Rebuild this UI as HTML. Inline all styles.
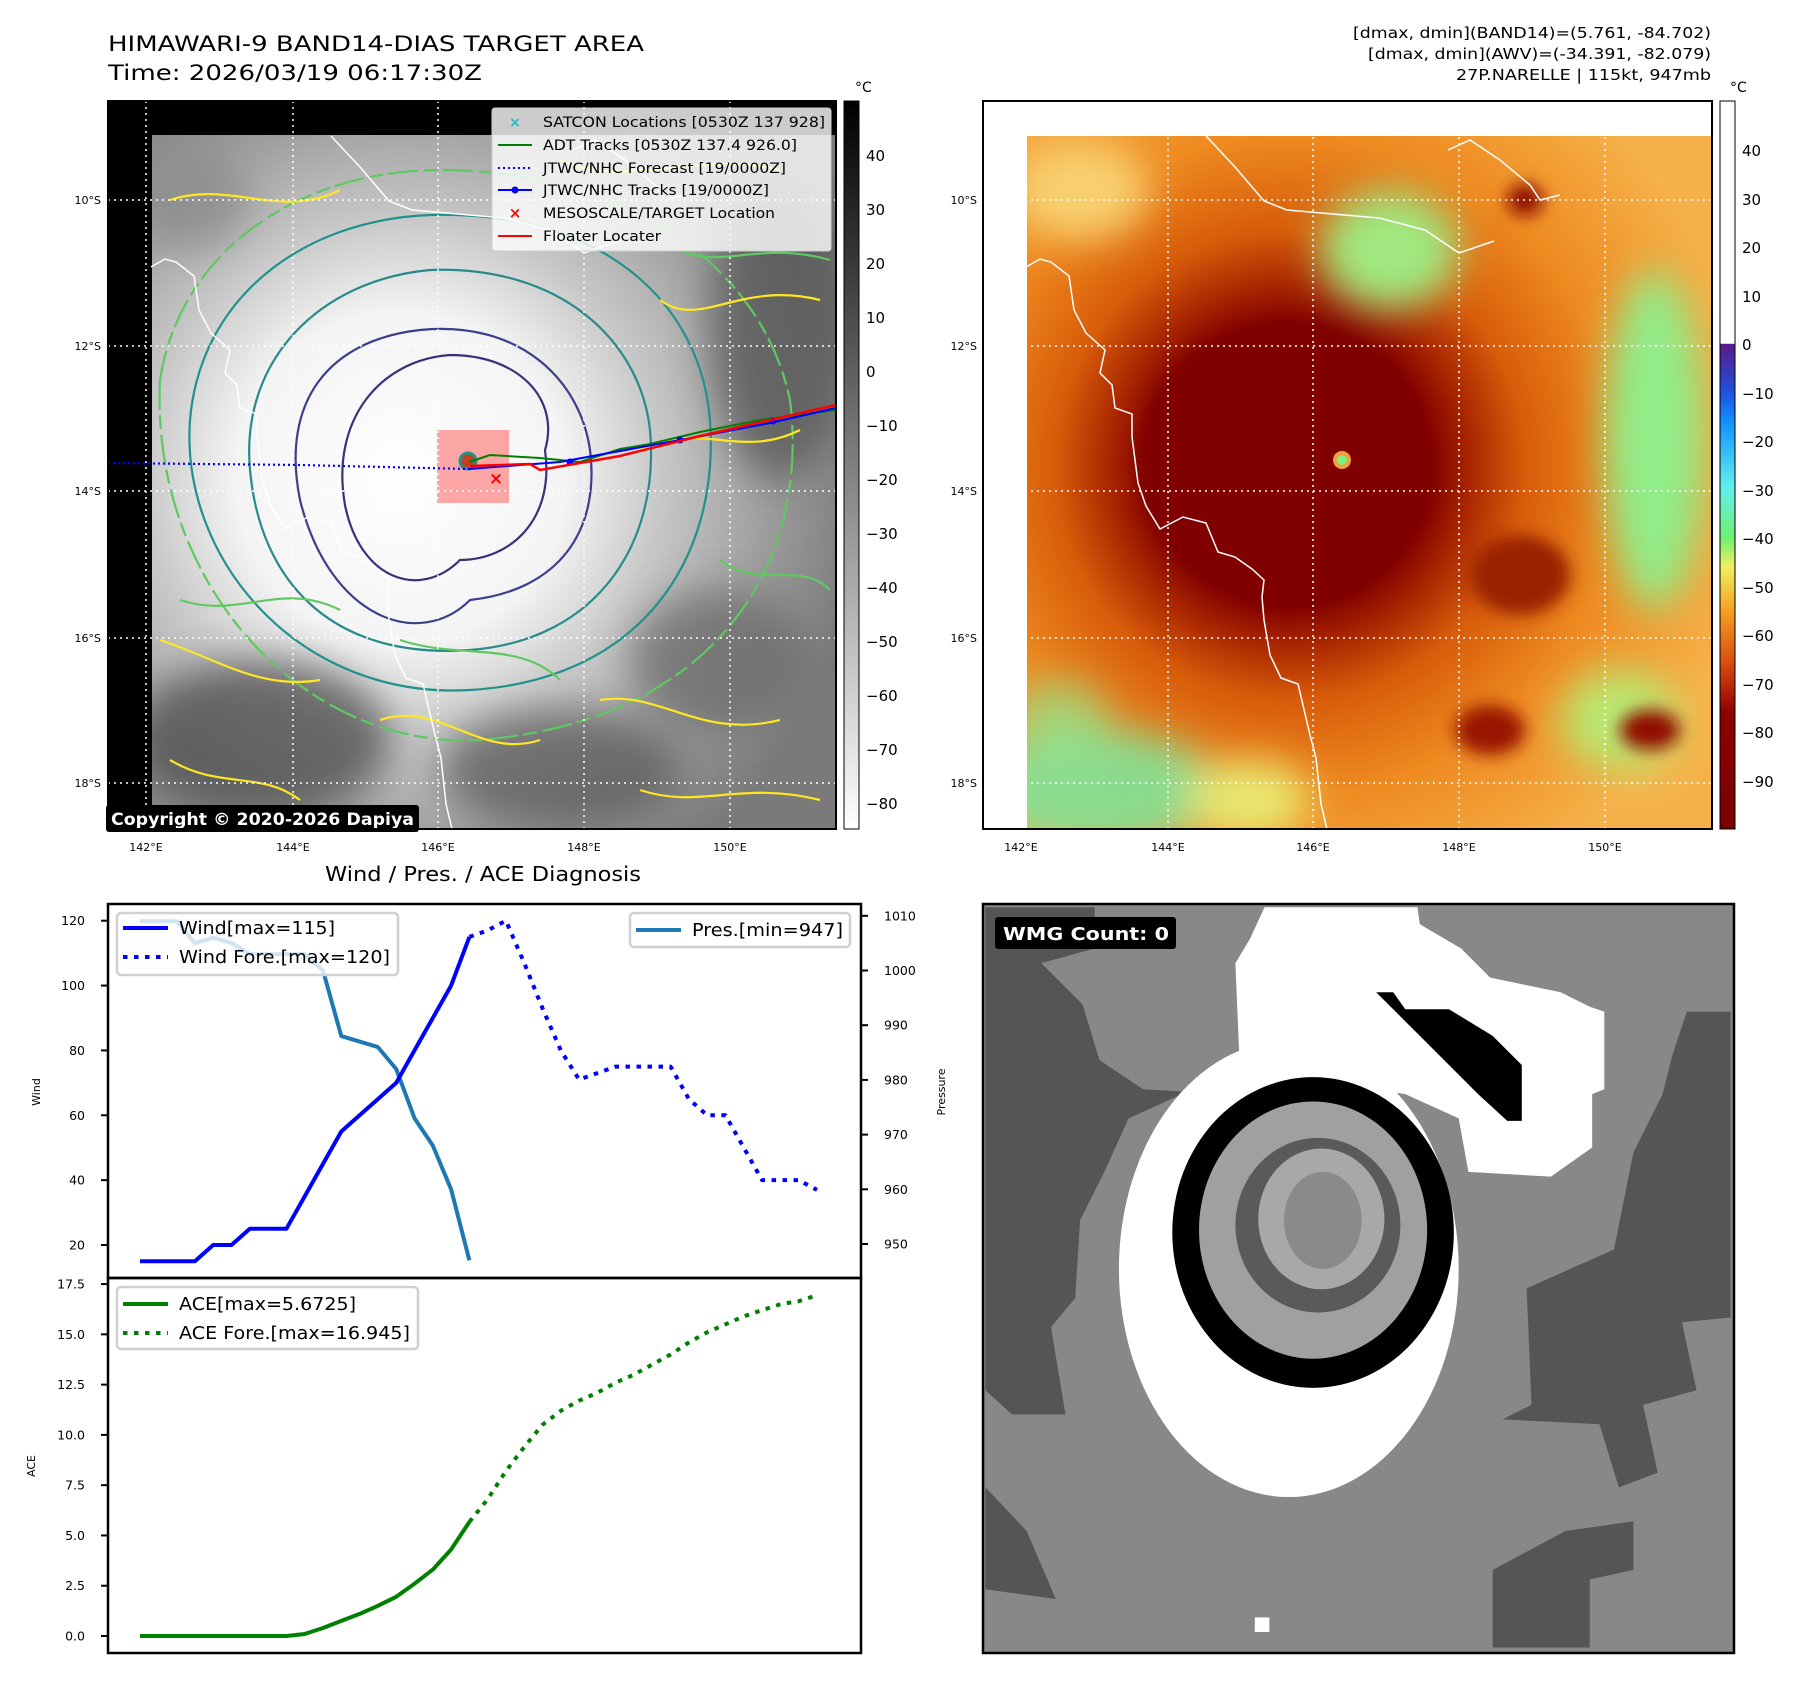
<!DOCTYPE html>
<html><head><meta charset="utf-8">
<style>
html,body{margin:0;padding:0;background:#fff;}
svg{display:block;font-family:"DejaVu Sans","Liberation Sans",sans-serif;}
</style></head>
<body>
<svg id="fig" width="1801" height="1690" viewBox="0 0 1801 1690" xmlns="http://www.w3.org/2000/svg">
<defs>
  <filter id="blur8" x="-50%" y="-50%" width="200%" height="200%"><feGaussianBlur stdDeviation="8"/></filter>
  <filter id="blur20" x="-50%" y="-50%" width="200%" height="200%"><feGaussianBlur stdDeviation="20"/></filter>
  <radialGradient id="irGray" cx="401" cy="478" r="470" gradientUnits="userSpaceOnUse">
    <stop offset="0" stop-color="#ffffff"/><stop offset="0.35" stop-color="#f4f4f4"/>
    <stop offset="0.55" stop-color="#c8c8c8"/><stop offset="0.8" stop-color="#9a9a9a"/>
    <stop offset="1" stop-color="#7a7a7a"/>
  </radialGradient>
  <radialGradient id="irColor" cx="1290" cy="465" r="470" gradientUnits="userSpaceOnUse">
    <stop offset="0" stop-color="#7e0000"/><stop offset="0.3" stop-color="#800000"/>
    <stop offset="0.38" stop-color="#a82400"/><stop offset="0.5" stop-color="#d85c0a"/>
    <stop offset="0.7" stop-color="#ee8a20"/><stop offset="1" stop-color="#f6b24a"/>
  </radialGradient>
  <linearGradient id="cbGray" x1="0" y1="0" x2="0" y2="1">
    <stop offset="0" stop-color="#000"/><stop offset="1" stop-color="#fff"/>
  </linearGradient>
  <linearGradient id="cbColor" x1="0" y1="0" x2="0" y2="1">
    <stop offset="0" stop-color="#fff"/><stop offset="0.333" stop-color="#fff"/>
    <stop offset="0.334" stop-color="#5a1a8a"/><stop offset="0.4" stop-color="#2050e0"/>
    <stop offset="0.44" stop-color="#1090ff"/><stop offset="0.53" stop-color="#60f0f0"/>
    <stop offset="0.6" stop-color="#70f070"/><stop offset="0.64" stop-color="#f0f060"/>
    <stop offset="0.7" stop-color="#f5a020"/><stop offset="0.77" stop-color="#d85010"/>
    <stop offset="0.84" stop-color="#900000"/><stop offset="1" stop-color="#7a0000"/>
  </linearGradient>
  <clipPath id="clipL"><rect x="152" y="135" width="684" height="694"/></clipPath>
  <clipPath id="clipR"><rect x="1027" y="136" width="685" height="693"/></clipPath>
  <path id="coast" d="M1026,267 L1040,259 L1051,262 L1069,276 L1074,310 L1086,333 L1105,350 L1100,373 L1112,385 L1115,408 L1132,414 L1132,437 L1138,483 L1146,506 L1160,529 L1183,517 L1206,523 L1218,552 L1235,557 L1252,569 L1264,580 L1262,597 L1264,620 L1270,655 L1281,678 L1298,684 L1310,735 L1316,758 L1321,804 L1327,829 M1206,136 L1235,167 L1264,201 L1287,210 L1379,218 L1425,230 L1459,253 L1494,241 M1448,150 L1470,140 L1500,160 L1530,185 L1540,200 L1560,195"/>
</defs>

<!-- Titles -->
<text x="108" y="51" font-size="21" textLength="536" lengthAdjust="spacingAndGlyphs">HIMAWARI-9 BAND14-DIAS TARGET AREA</text>
<text x="108" y="80" font-size="21" textLength="374" lengthAdjust="spacingAndGlyphs">Time: 2026/03/19 06:17:30Z</text>
<g font-size="15" text-anchor="end">
  <text x="1711" y="38" textLength="358" lengthAdjust="spacingAndGlyphs">[dmax, dmin](BAND14)=(5.761, -84.702)</text>
  <text x="1711" y="59" textLength="343" lengthAdjust="spacingAndGlyphs">[dmax, dmin](AWV)=(-34.391, -82.079)</text>
  <text x="1711" y="80" textLength="255" lengthAdjust="spacingAndGlyphs">27P.NARELLE | 115kt, 947mb</text>
</g>

<!-- LEFT MAP -->
<g>
  <rect x="108" y="101" width="728" height="728" fill="#000"/>
  <g clip-path="url(#clipL)">
    <rect x="152" y="135" width="684" height="694" fill="url(#irGray)"/>
    <g filter="url(#blur20)" opacity="0.75">
      <ellipse cx="260" cy="740" rx="130" ry="80" fill="#4a4a4a"/>
      <ellipse cx="560" cy="770" rx="120" ry="60" fill="#5a5a5a"/>
      <ellipse cx="780" cy="330" rx="70" ry="150" fill="#555"/>
      <ellipse cx="720" cy="660" rx="90" ry="70" fill="#6a6a6a"/>
      <ellipse cx="190" cy="200" rx="60" ry="50" fill="#8a8a8a"/>
    </g>
    <g fill="none" stroke-width="2.2">
      <path d="M345,505 C330,420 380,360 450,355 C520,355 560,400 545,450 C555,520 510,560 460,560 C420,600 360,580 345,505Z" stroke="#35337a"/>
      <path d="M300,500 C280,400 330,340 420,330 C520,320 580,380 590,450 C600,530 560,590 470,600 C420,650 330,620 300,500Z" stroke="#3b3f8c"/>
      <path d="M250,470 C240,360 320,280 430,270 C560,265 640,340 650,430 C660,540 600,640 470,650 C330,660 260,580 250,470Z" stroke="#2a8a8a"/>
      <path d="M190,420 C200,300 300,220 430,215 C600,210 700,300 710,420 C720,560 640,680 470,690 C300,700 180,560 190,420Z" stroke="#21918c"/>
      <path d="M160,380 C180,250 300,170 440,170 C620,170 760,260 790,400 C810,560 720,720 480,740 C300,750 150,580 160,380Z" stroke="#5ec962" stroke-dasharray="30 6 14 5"/>
      <path d="M160,640 C220,660 260,690 320,680 M380,720 C440,700 480,760 540,740 M600,700 C660,690 700,740 780,720 M640,450 C700,420 740,460 800,430 M660,300 C700,330 740,280 820,300 M170,200 C230,180 280,220 340,190 M560,160 C620,190 700,150 780,170 M170,760 C220,790 260,770 300,800 M640,790 C700,810 740,780 820,800" stroke="#fde725"/>
      <path d="M180,600 C240,620 280,580 340,610 M400,640 C460,660 520,640 560,680 M720,560 C760,590 800,560 830,590 M680,250 C720,270 760,240 830,260" stroke="#5ec962"/>
    </g>
    <rect x="437" y="430" width="72" height="73" fill="#ff6060" opacity="0.55"/>
    <circle cx="468" cy="461" r="8" fill="#c04020" stroke="#21918c" stroke-width="3"/>
  </g>
  <use href="#coast" transform="translate(-875,0)" fill="none" stroke="#fff" stroke-width="1.5"/>
  <g stroke="#fff" stroke-width="1.5" stroke-dasharray="2 4">
    <line x1="146" y1="101" x2="146" y2="829"/><line x1="293" y1="101" x2="293" y2="829"/><line x1="438" y1="101" x2="438" y2="829"/><line x1="584" y1="101" x2="584" y2="829"/><line x1="730" y1="101" x2="730" y2="829"/>
    <line x1="108" y1="200" x2="836" y2="200"/><line x1="108" y1="346" x2="836" y2="346"/><line x1="108" y1="491" x2="836" y2="491"/><line x1="108" y1="638" x2="836" y2="638"/><line x1="108" y1="783" x2="836" y2="783"/>
  </g>
  <polyline points="108,463 300,465 469,469" fill="none" stroke="#0000ff" stroke-width="2.2" stroke-dasharray="2 3"/>
  <polyline points="469,462 490,455 540,458 580,462 620,449 650,444 700,432 760,420 836,410" fill="none" stroke="#008000" stroke-width="2"/>
  <polyline points="469,469 560,462 680,440 770,423 836,408" fill="none" stroke="#0000ff" stroke-width="2"/>
  <circle cx="570" cy="462" r="3.5" fill="#0000ff"/><circle cx="680" cy="440" r="3.5" fill="#0000ff"/><circle cx="773" cy="421" r="3.5" fill="#0000ff"/>
  <polyline points="470,466 530,464 540,470 620,456 700,436 836,405" fill="none" stroke="#ff0000" stroke-width="2.5"/>
  <text x="496" y="484" font-size="17" font-weight="bold" fill="#ff0000" text-anchor="middle">×</text>
  <rect x="106" y="805" width="313" height="27" rx="3" fill="#000"/>
  <text x="111" y="825" font-size="17" font-weight="bold" fill="#fff" textLength="303" lengthAdjust="spacingAndGlyphs">Copyright © 2020-2026 Dapiya</text>
  <rect x="108" y="101" width="728" height="728" fill="none" stroke="#000" stroke-width="2"/>
  <g>
    <rect x="492" y="108" width="339" height="143" rx="3" fill="#fff" fill-opacity="0.8" stroke="#ccc"/>
    <text x="515" y="127" font-size="14" fill="#17becf" text-anchor="middle" font-weight="bold">×</text>
    <line x1="498" y1="145" x2="532" y2="145" stroke="#008000" stroke-width="2"/>
    <line x1="498" y1="168" x2="532" y2="168" stroke="#0000ff" stroke-width="2" stroke-dasharray="2 3"/>
    <line x1="498" y1="190" x2="532" y2="190" stroke="#0000ff" stroke-width="2"/><circle cx="515" cy="190" r="3.5" fill="#0000ff"/>
    <text x="515" y="218" font-size="15" fill="#ff0000" text-anchor="middle" font-weight="bold">×</text>
    <line x1="498" y1="236" x2="532" y2="236" stroke="#ff0000" stroke-width="2"/>
    <g font-size="14">
      <text x="543" y="127" textLength="282" lengthAdjust="spacingAndGlyphs">SATCON Locations [0530Z 137 928]</text>
      <text x="543" y="150" textLength="254" lengthAdjust="spacingAndGlyphs">ADT Tracks [0530Z 137.4 926.0]</text>
      <text x="543" y="173" textLength="243" lengthAdjust="spacingAndGlyphs">JTWC/NHC Forecast [19/0000Z]</text>
      <text x="543" y="195" textLength="226" lengthAdjust="spacingAndGlyphs">JTWC/NHC Tracks [19/0000Z]</text>
      <text x="543" y="218" textLength="232" lengthAdjust="spacingAndGlyphs">MESOSCALE/TARGET Location</text>
      <text x="543" y="241" textLength="118" lengthAdjust="spacingAndGlyphs">Floater Locater</text>
    </g>
  </g>
  <g font-size="11" text-anchor="end">
    <text x="101" y="204">10°S</text><text x="101" y="350">12°S</text><text x="101" y="495">14°S</text><text x="101" y="642">16°S</text><text x="101" y="787">18°S</text>
  </g>
  <g font-size="11" text-anchor="middle">
    <text x="146" y="851">142°E</text><text x="293" y="851">144°E</text><text x="438" y="851">146°E</text><text x="584" y="851">148°E</text><text x="730" y="851">150°E</text>
  </g>
</g>
<g>
  <rect x="844" y="101" width="15" height="728" fill="url(#cbGray)" stroke="#000" stroke-width="1"/>
  <text x="855" y="92" font-size="14">°C</text>
  <g font-size="15">
    <text x="866" y="161">40</text><text x="866" y="215">30</text><text x="866" y="269">20</text><text x="866" y="323">10</text><text x="866" y="377">0</text>
    <text x="866" y="431">−10</text><text x="866" y="485">−20</text><text x="866" y="539">−30</text><text x="866" y="593">−40</text><text x="866" y="647">−50</text>
    <text x="866" y="701">−60</text><text x="866" y="755">−70</text><text x="866" y="809">−80</text>
  </g>
</g>

<!-- RIGHT MAP -->
<g>
  <g clip-path="url(#clipR)">
    <rect x="1027" y="136" width="685" height="693" fill="url(#irColor)"/>
    <g filter="url(#blur20)">
      <ellipse cx="1100" cy="790" rx="120" ry="60" fill="#7ae8a0" opacity="0.85"/>
      <ellipse cx="1060" cy="720" rx="50" ry="40" fill="#8ee890" opacity="0.7"/>
      <ellipse cx="1250" cy="800" rx="60" ry="40" fill="#e8e870"/>
      <ellipse cx="1655" cy="440" rx="50" ry="170" fill="#90ee8a"/>
      <ellipse cx="1390" cy="250" rx="70" ry="60" fill="#a0e880"/>
      <ellipse cx="1620" cy="720" rx="60" ry="50" fill="#b8e870"/>
      <ellipse cx="1080" cy="190" rx="70" ry="50" fill="#f8d070"/>
    </g>
    <g filter="url(#blur8)">
      <ellipse cx="1280" cy="460" rx="140" ry="135" fill="#800000"/>
      <ellipse cx="1520" cy="575" rx="50" ry="40" fill="#9a2000"/>
      <ellipse cx="1490" cy="730" rx="35" ry="25" fill="#9a1800"/>
      <ellipse cx="1650" cy="730" rx="30" ry="20" fill="#901000"/>
      <ellipse cx="1525" cy="200" rx="18" ry="16" fill="#901000"/>
    </g>
    <circle cx="1342" cy="460" r="9" fill="#f0a040"/><circle cx="1342" cy="460" r="5" fill="#80f080"/>
    <use href="#coast" fill="none" stroke="#fff" stroke-width="1.5"/>
  </g>
  <g stroke="#fff" stroke-width="1.5" stroke-dasharray="2 4">
    <line x1="1021" y1="101" x2="1021" y2="829"/><line x1="1168" y1="101" x2="1168" y2="829"/><line x1="1313" y1="101" x2="1313" y2="829"/><line x1="1459" y1="101" x2="1459" y2="829"/><line x1="1605" y1="101" x2="1605" y2="829"/>
    <line x1="983" y1="200" x2="1712" y2="200"/><line x1="983" y1="346" x2="1712" y2="346"/><line x1="983" y1="491" x2="1712" y2="491"/><line x1="983" y1="638" x2="1712" y2="638"/><line x1="983" y1="783" x2="1712" y2="783"/>
  </g>
  <rect x="983" y="101" width="729" height="728" fill="none" stroke="#000" stroke-width="2"/>
  <g font-size="11" text-anchor="end">
    <text x="977" y="204">10°S</text><text x="977" y="350">12°S</text><text x="977" y="495">14°S</text><text x="977" y="642">16°S</text><text x="977" y="787">18°S</text>
  </g>
  <g font-size="11" text-anchor="middle">
    <text x="1021" y="851">142°E</text><text x="1168" y="851">144°E</text><text x="1313" y="851">146°E</text><text x="1459" y="851">148°E</text><text x="1605" y="851">150°E</text>
  </g>
</g>
<g>
  <rect x="1720" y="101" width="15" height="728" fill="url(#cbColor)" stroke="#000" stroke-width="1"/>
  <text x="1730" y="92" font-size="14">°C</text>
  <g font-size="15">
    <text x="1742" y="156">40</text><text x="1742" y="205">30</text><text x="1742" y="253">20</text><text x="1742" y="302">10</text><text x="1742" y="350">0</text>
    <text x="1742" y="399">−10</text><text x="1742" y="447">−20</text><text x="1742" y="496">−30</text><text x="1742" y="544">−40</text><text x="1742" y="593">−50</text>
    <text x="1742" y="641">−60</text><text x="1742" y="690">−70</text><text x="1742" y="738">−80</text><text x="1742" y="787">−90</text>
  </g>
</g>

<!-- WMG PANEL -->
<g>
  <rect x="983" y="904" width="751" height="749" fill="#888"/>
  <g transform="translate(983,900) scale(0.4854)">
    <polygon fill="#555" points="5,15 230,15 230,100 120,130 205,215 240,330 330,390 420,395 300,450 250,560 200,660 190,820 140,880 170,1060 60,1060 5,1010"/>
    <polygon fill="#555" points="1540,230 1450,230 1420,320 1400,400 1340,520 1300,720 1120,800 1130,1040 1070,1070 1270,1080 1310,1210 1390,1180 1360,1040 1470,1010 1440,870 1540,860"/>
    <polygon fill="#555" points="1050,1380 1200,1300 1340,1280 1340,1380 1250,1400 1250,1540 1050,1540"/>
    <polygon fill="#555" points="5,1210 90,1300 150,1440 5,1420"/>
    <polygon fill="#fff" points="580,15 895,15 900,50 985,100 1045,160 1190,190 1250,220 1280,230 1280,390 1255,400 1255,510 1170,570 1000,560 980,450 870,400 700,370 530,370 520,130 550,80"/>
    <ellipse cx="630" cy="760" rx="350" ry="470" fill="#fff"/>
    <polygon fill="#000" points="810,190 845,190 870,225 960,225 1050,280 1110,340 1110,455 1080,455 1020,400 960,340 900,280"/>
    <ellipse cx="680" cy="685" rx="290" ry="320" fill="#000"/>
    <ellipse cx="680" cy="680" rx="235" ry="265" fill="#a0a0a0"/>
    <ellipse cx="690" cy="670" rx="170" ry="180" fill="#5a5a5a"/>
    <ellipse cx="697" cy="657" rx="130" ry="145" fill="#a8a8a8"/>
    <ellipse cx="700" cy="660" rx="80" ry="100" fill="#8a8a8a"/>
    <rect x="560" y="1478" width="30" height="30" fill="#fff"/>
  </g>
  <rect x="995" y="917" width="181" height="32" rx="3" fill="#000"/>
  <text x="1003" y="940" font-size="18" font-weight="bold" fill="#fff" textLength="166" lengthAdjust="spacingAndGlyphs">WMG Count: 0</text>
  <rect x="983" y="904" width="751" height="749" fill="none" stroke="#000" stroke-width="2.5"/>
</g>

<!-- DIAGNOSIS CHART -->
<text x="483" y="881" font-size="20" text-anchor="middle" textLength="316" lengthAdjust="spacingAndGlyphs">Wind / Pres. / ACE Diagnosis</text>
<g id="chart"></g>
</svg>

<script>
const windTicks = [20, 40, 60, 80, 100, 120];
const presTicks = [950, 960, 970, 980, 990, 1000, 1010];
const aceTicks = [0.0, 2.5, 5.0, 7.5, 10.0, 12.5, 15.0, 17.5];
const windObs = [15,15,15,15,20,20,25,25,25,35,45,55,60,65,70,80,90,100,115];
const windFore = [115,117,120,107,93,80,71,73,75,75,75,75,65,60,60,50,40,40,40,37];
const presObs = [1009,1009,1009,1005,1006,1005,1003,1003,1003,1003,1000,988,987,986,982,973,968,960,947];
const aceObs = [0,0,0,0,0,0,0,0,0,0.1,0.4,0.75,1.1,1.5,1.95,2.6,3.3,4.3,5.6725];
const aceFore = [5.6725,6.8,8.2,9.4,10.5,11.2,11.7,12.1,12.6,13.0,13.5,14.0,14.6,15.1,15.5,15.9,16.2,16.5,16.65,16.945];

const NS = 'http://www.w3.org/2000/svg';
const chart = document.getElementById('chart');
const X0 = 108, X1 = 861, T = 904, M = 1278, B = 1653;
const totalSteps = windObs.length - 1 + windFore.length - 1;
function xs(i){ return 140 + i * (817 - 140) / totalSteps; }
function yWind(v){ return 920.7 + (120 - v) * 3.243; }
function yPres(p){ return 915.8 + (1010 - p) * 5.47; }
function yAce(a){ return 1636 - a * 20.11; }
function mk(tag, attrs){ const e = document.createElementNS(NS, tag); for (const k in attrs) e.setAttribute(k, attrs[k]); chart.appendChild(e); return e; }
function poly(vals, off, yf, color, dotted){
  const pts = vals.map((v, i) => xs(i + off).toFixed(1) + ',' + yf(v).toFixed(1)).join(' ');
  const p = mk('polyline', {points: pts, fill: 'none', stroke: color, 'stroke-width': 4, 'stroke-linejoin': 'round'});
  if (dotted) p.setAttribute('stroke-dasharray', '4.5 6.5');
  return p;
}
const f1 = mk('rect', {x: X0, y: T, width: X1 - X0, height: M - T, fill: 'none', stroke: '#000', 'stroke-width': 2.5});


const f2 = mk('rect', {x: X0, y: M, width: X1 - X0, height: B - M, fill: 'none', stroke: '#000', 'stroke-width': 2.5});


windTicks.forEach(v => {
  const y = yWind(v);
  const t = mk('line', {x1: X0 - 7, x2: X0, y1: y, y2: y, stroke: '#000', 'stroke-width': 2});
  
  
  const l = mk('text', {x: X0 - 23, y: y + 4.5, 'font-size': 12.5, 'text-anchor': 'end'});
  
  
  l.textContent = v;
});
presTicks.forEach(v => {
  const y = yPres(v);
  const t = mk('line', {x1: X1, x2: X1 + 7, y1: y, y2: y, stroke: '#000', 'stroke-width': 2});
  
  
  const l = mk('text', {x: X1 + 23, y: y + 4.5, 'font-size': 12.5});
  
  
  l.textContent = v;
});
aceTicks.forEach(v => {
  const y = yAce(v);
  const t = mk('line', {x1: X0 - 7, x2: X0, y1: y, y2: y, stroke: '#000', 'stroke-width': 2});
  
  
  const l = mk('text', {x: X0 - 23, y: y + 4.5, 'font-size': 12.5, 'text-anchor': 'end'});
  
  
  l.textContent = v.toFixed(1);
});
const a1 = mk('text', {x: 40, y: 1092, 'font-size': 11, 'text-anchor': 'middle', transform: 'rotate(-90 40 1092)'});


a1.textContent = 'Wind';
const a2 = mk('text', {x: 945, y: 1092, 'font-size': 11, 'text-anchor': 'middle', transform: 'rotate(-90 945 1092)'});


a2.textContent = 'Pressure';
const a3 = mk('text', {x: 35, y: 1466, 'font-size': 11, 'text-anchor': 'middle', transform: 'rotate(-90 35 1466)'});


a3.textContent = 'ACE';

const s1 = poly(presObs, 0, yPres, '#1f77b4', false);


const s2 = poly(windObs, 0, yWind, '#0000ff', false);


const s3 = poly(windFore, windObs.length - 1, yWind, '#0000ff', true);


const s4 = poly(aceObs, 0, yAce, '#008000', false);


const s5 = poly(aceFore, aceObs.length - 1, yAce, '#008000', true);



function legend(name, bx, by, bw, bh, items){
  const g = document.createElementNS(NS, 'g');
  
  
  chart.appendChild(g);
  const r = document.createElementNS(NS, 'rect');
  [['x', bx], ['y', by], ['width', bw], ['height', bh], ['rx', 4], ['fill', '#fff'], ['fill-opacity', 0.8], ['stroke', '#d0d0d0'], ['stroke-width', 2.5]].forEach(a => r.setAttribute(a[0], a[1]));
  g.appendChild(r);
  items.forEach(it => {
    const l = document.createElementNS(NS, 'line');
    [['x1', bx + 6], ['x2', bx + 51], ['y1', it.y], ['y2', it.y], ['stroke', it.c], ['stroke-width', 4]].forEach(a => l.setAttribute(a[0], a[1]));
    if (it.d) l.setAttribute('stroke-dasharray', '4.5 6.5');
    g.appendChild(l);
    const t = document.createElementNS(NS, 'text');
    [['x', bx + 62], ['y', it.y + 6], ['font-size', 18], ['textLength', it.w], ['lengthAdjust', 'spacingAndGlyphs']].forEach(a => t.setAttribute(a[0], a[1]));
    t.textContent = it.t;
    g.appendChild(t);
  });
}
legend('wind-legend', 117, 913, 281, 62, [{y: 928, c: '#0000ff', t: 'Wind[max=115]', w: 156}, {y: 957, c: '#0000ff', d: true, t: 'Wind Fore.[max=120]', w: 211}]);
legend('pressure-legend', 630, 913, 220, 34, [{y: 930, c: '#1f77b4', t: 'Pres.[min=947]', w: 151}]);
legend('ace-legend', 117, 1287, 301, 62, [{y: 1304, c: '#008000', t: 'ACE[max=5.6725]', w: 177}, {y: 1333, c: '#008000', d: true, t: 'ACE Fore.[max=16.945]', w: 231}]);
</script>
</body></html>
